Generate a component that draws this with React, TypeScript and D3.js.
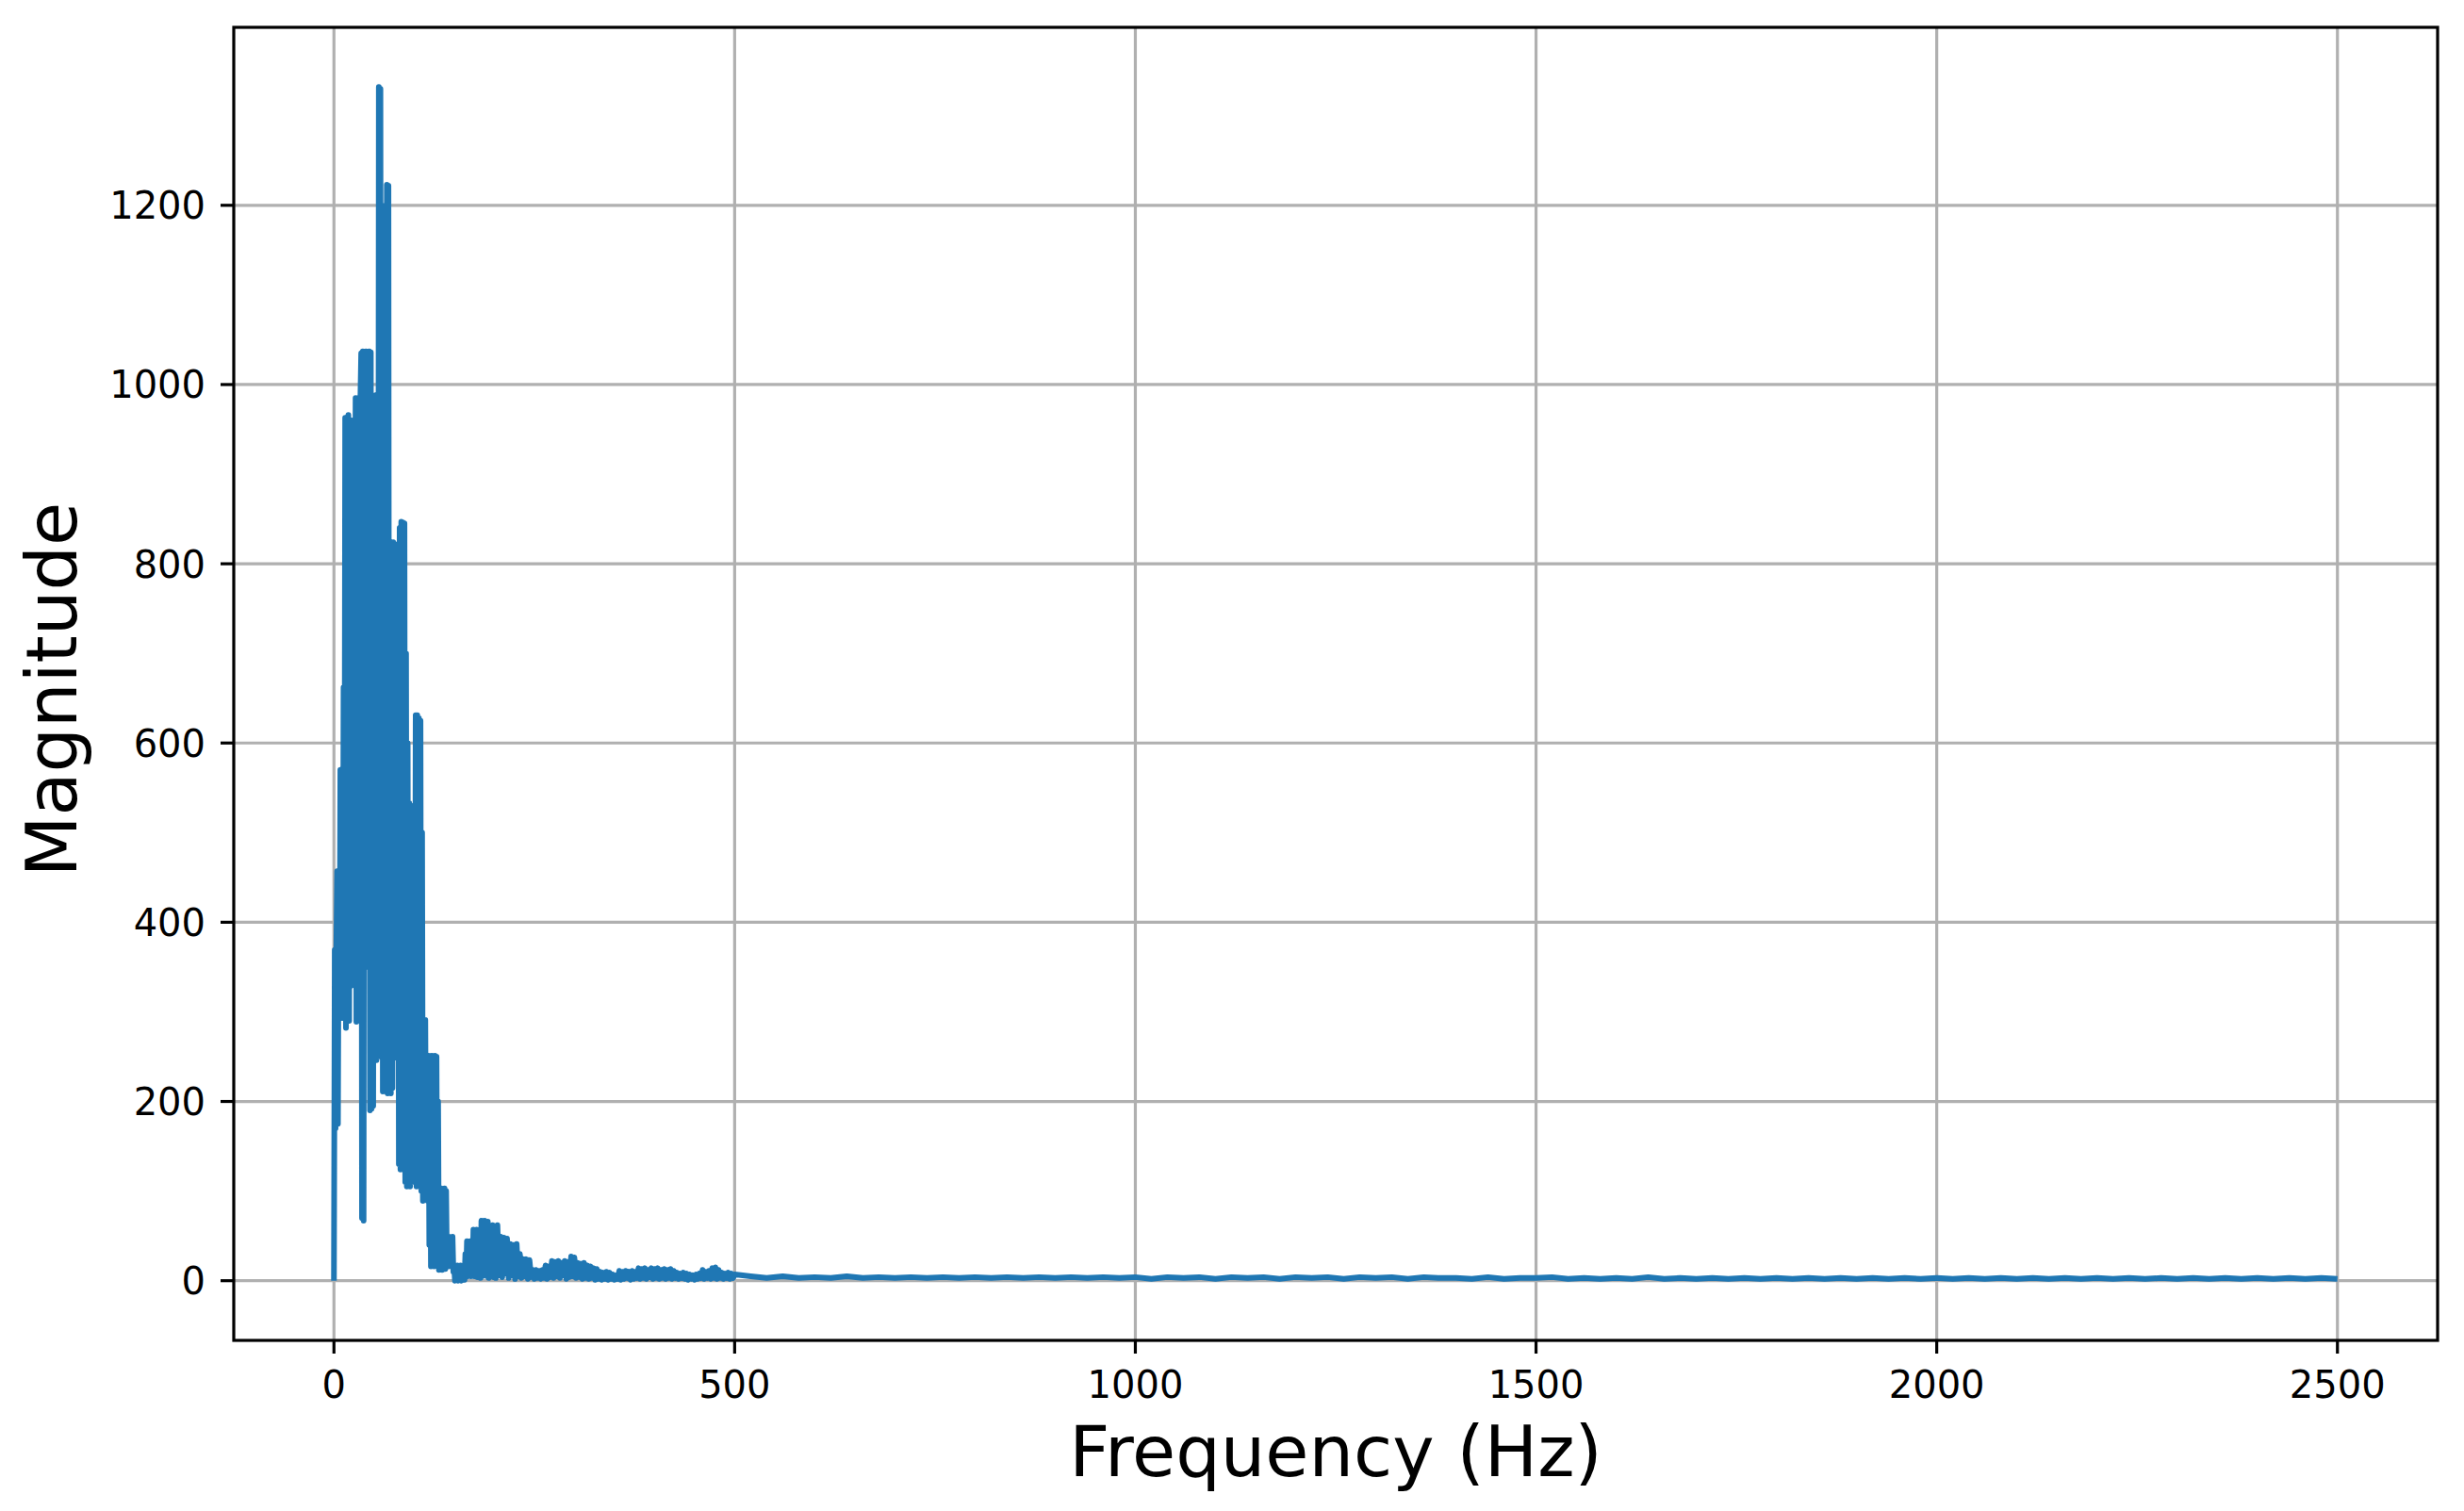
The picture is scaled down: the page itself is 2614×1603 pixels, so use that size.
import React, { useEffect, useRef } from 'react';
import * as d3 from 'd3';

const W = 2614;
const H = 1603;

const xTicks = [0, 500, 1000, 1500, 2000, 2500];
const yTicks = [0, 200, 400, 600, 800, 1000, 1200];
const xLabel = 'Frequency (Hz)';
const yLabel = 'Magnitude';

// 0..200 Hz, 1 Hz bins
const magLow = [
  0, 369, 170, 368, 457, 175, 450, 300, 570, 293,
  565, 300, 662, 305, 963, 282, 960, 320, 966, 290,
  955, 329, 960, 335, 760, 330, 755, 985, 289, 980,
  300, 985, 420, 984, 1035, 70, 1037, 67, 1036, 350,
  1037, 505, 1035, 510, 1037, 190, 1036, 192, 988, 195,
  985, 260, 988, 246, 988, 250, 1332, 300, 1330, 300,
  1150, 211, 1180, 215, 1200, 212, 1223, 209, 1222, 210,
  800, 209, 824, 215, 824, 250, 822, 249, 790, 252,
  810, 130, 840, 124, 847, 130, 846, 126, 845, 110,
  700, 105, 600, 108, 533, 105, 530, 110, 483, 185,
  480, 190, 631, 105, 631, 110, 628, 105, 625, 100,
  500, 89, 291, 92, 291, 90, 251, 89, 251, 40,
  250, 16, 251, 20, 248, 16, 251, 30, 250, 18,
  200, 12, 103, 15, 103, 12, 102, 14, 103, 13,
  100, 16, 49, 16, 49, 18, 48, 16, 49, 10,
  17, 0, 16, 1, 17, 0, 15, 2, 17, 0,
  14, 2, 17, 1, 30, 5, 44, 5, 42, 6,
  44, 5, 40, 8, 57, 5, 55, 6, 57, 4,
  52, 8, 56, 3, 67, 5, 64, 18, 67, 20,
  62, 5, 66, 3, 45, 12, 44, 10, 62, 4,
  60,
];

// 202..500 Hz, 2 Hz bins
const magMid = [
  3, 62, 6, 49, 4, 48, 8, 47, 3, 41,
  6, 40, 2, 41, 5, 30, 3, 24, 5, 24,
  2, 23, 4, 12, 2, 12, 3, 11, 2, 12,
  3, 17, 2, 16, 4, 22, 3, 21, 5, 22,
  3, 20, 6, 22, 2, 21, 4, 27, 5, 26,
  3, 20, 4, 19, 2, 20, 3, 17, 2, 16,
  3, 14, 1, 13, 2, 10, 1, 9, 2, 10,
  1, 9, 2, 7, 1, 6, 2, 11, 1, 10,
  2, 11, 3, 10, 1, 11, 2, 10, 3, 14,
  2, 13, 3, 14, 2, 12, 4, 14, 2, 13,
  3, 14, 2, 12, 3, 13, 2, 12, 3, 13,
  2, 11, 3, 9, 2, 8, 3, 9, 2, 8,
  1, 7, 2, 6, 1, 7, 2, 8, 3, 12,
  2, 10, 3, 11, 2, 14, 3, 15, 2, 12,
  3, 9, 2, 8, 3, 9, 2, 8, 3, 7,
];

// 520..2500 Hz, 20 Hz bins
const magTail = [
  5, 3, 5, 3, 4, 3, 5, 3, 4, 3, 4, 3, 4, 3, 4, 3, 4, 3, 4, 3,
  4, 3, 4, 3, 4, 2, 4, 3, 4, 2, 4, 3, 4, 2, 4, 3, 4, 2, 4, 3,
  4, 2, 4, 3, 3, 2, 4, 2, 3, 3, 4, 2, 3, 2, 3, 2, 4, 2, 3, 2,
  3, 2, 3, 2, 3, 2, 3, 2, 3, 2, 3, 2, 3, 2, 3, 2, 3, 2, 3, 2,
  3, 2, 3, 2, 3, 2, 3, 2, 3, 2, 3, 2, 3, 2, 3, 2, 3, 2, 3, 2,
];

export default function App() {
  const ref = useRef<SVGSVGElement>(null);

  useEffect(() => {
    const svg = d3.select(ref.current);
    svg.selectAll('*').remove();

    const data: [number, number][] = [
      ...magLow.map((v, i) => [i, v] as [number, number]),
      ...magMid.map((v, i) => [202 + 2 * i, v] as [number, number]),
      ...magTail.map((v, i) => [520 + 20 * i, v] as [number, number]),
    ];

    const left = 248, right = 2586, top = 29, bottom = 1422;
    const x = d3.scaleLinear().domain([-125, 2625]).range([left, right]);
    const y = d3.scaleLinear().domain([-66.6, 1398.6]).range([bottom, top]);

    const font = 'DejaVu Sans, sans-serif';

    svg.append('rect').attr('x', 0).attr('y', 0).attr('width', W).attr('height', H).attr('fill', '#ffffff');

    const grid = svg.append('g');
    xTicks.forEach((t) => {
      grid.append('line')
        .attr('x1', x(t)).attr('x2', x(t))
        .attr('y1', top).attr('y2', bottom)
        .attr('stroke', '#b0b0b0').attr('stroke-width', 3.2);
    });
    yTicks.forEach((t) => {
      grid.append('line')
        .attr('x1', left).attr('x2', right)
        .attr('y1', y(t)).attr('y2', y(t))
        .attr('stroke', '#b0b0b0').attr('stroke-width', 3.2);
    });

    const line = d3.line<[number, number]>()
      .x((d) => x(d[0]))
      .y((d) => y(d[1]));

    svg.append('path')
      .datum(data)
      .attr('d', line)
      .attr('fill', 'none')
      .attr('stroke', '#1f77b4')
      .attr('stroke-width', 6)
      .attr('stroke-linejoin', 'round');

    svg.append('rect')
      .attr('x', left).attr('y', top)
      .attr('width', right - left).attr('height', bottom - top)
      .attr('fill', 'none').attr('stroke', '#000').attr('stroke-width', 3.2);

    const ticks = svg.append('g');
    xTicks.forEach((t) => {
      ticks.append('line')
        .attr('x1', x(t)).attr('x2', x(t))
        .attr('y1', bottom).attr('y2', bottom + 14)
        .attr('stroke', '#000').attr('stroke-width', 3.2);
      ticks.append('text')
        .attr('x', x(t)).attr('y', 1483)
        .attr('text-anchor', 'middle')
        .attr('font-family', font).attr('font-size', 40)
        .attr('fill', '#000')
        .text(String(t));
    });
    yTicks.forEach((t) => {
      ticks.append('line')
        .attr('x1', left - 14).attr('x2', left)
        .attr('y1', y(t)).attr('y2', y(t))
        .attr('stroke', '#000').attr('stroke-width', 3.2);
      ticks.append('text')
        .attr('x', 218).attr('y', y(t) + 14.5)
        .attr('text-anchor', 'end')
        .attr('font-family', font).attr('font-size', 40)
        .attr('fill', '#000')
        .text(String(t));
    });

    svg.append('text')
      .attr('x', (left + right) / 2).attr('y', 1566)
      .attr('text-anchor', 'middle')
      .attr('font-family', font).attr('font-size', 75)
      .attr('fill', '#000')
      .text(xLabel);

    svg.append('text')
      .attr('transform', `translate(81, ${(top + bottom) / 2 + 6}) rotate(-90)`)
      .attr('text-anchor', 'middle')
      .attr('font-family', font).attr('font-size', 75)
      .attr('fill', '#000')
      .text(yLabel);
  }, []);

  return (
    <div style={{ position: 'absolute', left: 0, top: 0 }}>
      <svg ref={ref} width={W} height={H} />
    </div>
  );
}
